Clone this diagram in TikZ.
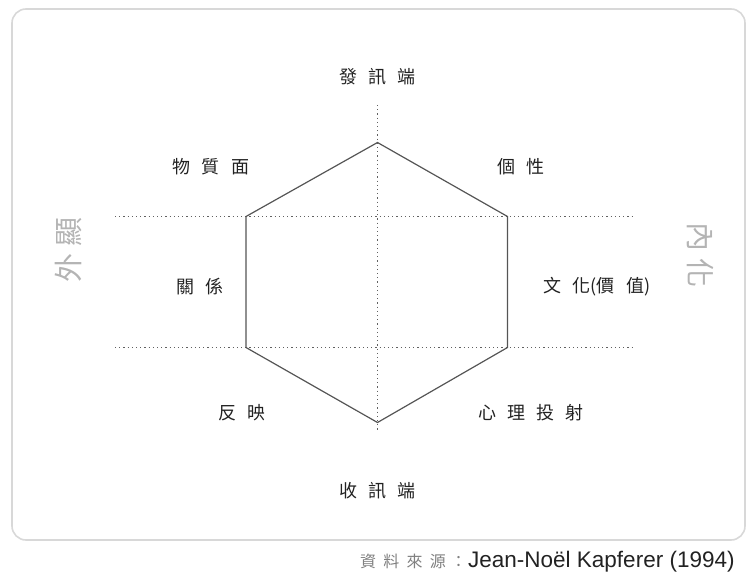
\documentclass[tikz,border=0pt]{standalone}
\usepackage{fontspec}
\setmainfont{Liberation Sans}
\newfontfamily\cjk{Noto Sans CJK TC}
\usetikzlibrary{positioning}
\definecolor{framegray}{HTML}{D8D8D8}
\definecolor{hexgray}{HTML}{555555}
\definecolor{dotgray}{HTML}{606060}
\definecolor{labelgray}{HTML}{222222}
\definecolor{sidegray}{HTML}{B4B4B4}
\newcommand{\cjkgap}{\hspace{0.62em}}

\begin{document}
\begin{tikzpicture}[x=1pt,y=-1pt,
		guide/.style={line width=1.2pt, dotgray, dash pattern=on 1.2pt off 3pt},
		hexline/.style={line width=1.2pt, hexgray, line join=miter},
		facet/.style={font=\cjk\fontsize{18}{20}\selectfont, text=labelgray, inner sep=0pt},
		sidelabel/.style={font=\cjk\fontsize{29}{32}\selectfont, text=sidegray, inner sep=0pt}]
			\useasboundingbox (0,0) rectangle (748,578);
			%%%%% FRAME %%%%%
			\draw[framegray, line width=1.6pt, rounded corners=14pt] (12,9) rectangle (745,540);
			
			%%%%% GUIDES %%%%%
			\coordinate (vtop) at (377.5,105);
			\coordinate (vbot) at (377.5,432);
			\coordinate (hupL) at (115,216.5);
			\coordinate (hupR) at (632,216.5);
			\coordinate (hloL) at (115,347.5);
			\coordinate (hloR) at (632,347.5);
			\draw[guide] (vtop) -- (vbot);
			\draw[guide] (hupL) -- (hupR);
			\draw[guide] (hloL) -- (hloR);
			
			%%%%% HEXAGON %%%%%
			\coordinate (send) at (377.5,142.5);
			\coordinate (pers) at (507.5,216.5);
			\coordinate (cult) at (507.5,347.5);
			\coordinate (recv) at (377.5,422.5);
			\coordinate (refl) at (246,347.5);
			\coordinate (phys) at (246,216.5);
			\draw[hexline] (send) -- (pers) -- (cult) -- (recv) -- (refl) -- (phys) -- cycle;
			
			%%%%% LABELS %%%%%
			\node[facet] (sender) at (377.5,77) {發\cjkgap 訊\cjkgap 端};
			\node[facet] (physique) at (211,167) {物\cjkgap 質\cjkgap 面};
			\node[facet] (personality) at (521,167) {個\cjkgap 性};
			\node[facet] (relation) at (200,287) {關\cjkgap 係};
			\node[facet] (culture) at (597,287) {文\cjkgap 化(價\cjkgap 值)};
			\node[facet] (reflection) at (242,413) {反\cjkgap 映};
			\node[facet] (selfimage) at (531,413) {心\cjkgap 理\cjkgap 投\cjkgap 射};
			\node[facet] (receiver) at (377.5,491) {收\cjkgap 訊\cjkgap 端};
			
			\node[sidelabel, rotate=90] (extern) at (68,250) {外\hspace{0.25em}顯};
			\node[sidelabel, rotate=-90] (intern) at (700,255) {內\hspace{0.25em}化};
			
			%%%%% SOURCE %%%%%
			\node[anchor=base west, inner sep=0pt] (source) at (360,567)
				{{\cjk\fontsize{16}{18}\selectfont\color{gray}資\hspace{0.45em}料\hspace{0.45em}來\hspace{0.45em}源\hspace{0.3em}：\hspace{0.1em}}{\fontsize{22.5}{26}\selectfont\color{labelgray}Jean-Noël Kapferer (1994)}};
		\end{tikzpicture}
\end{document}
